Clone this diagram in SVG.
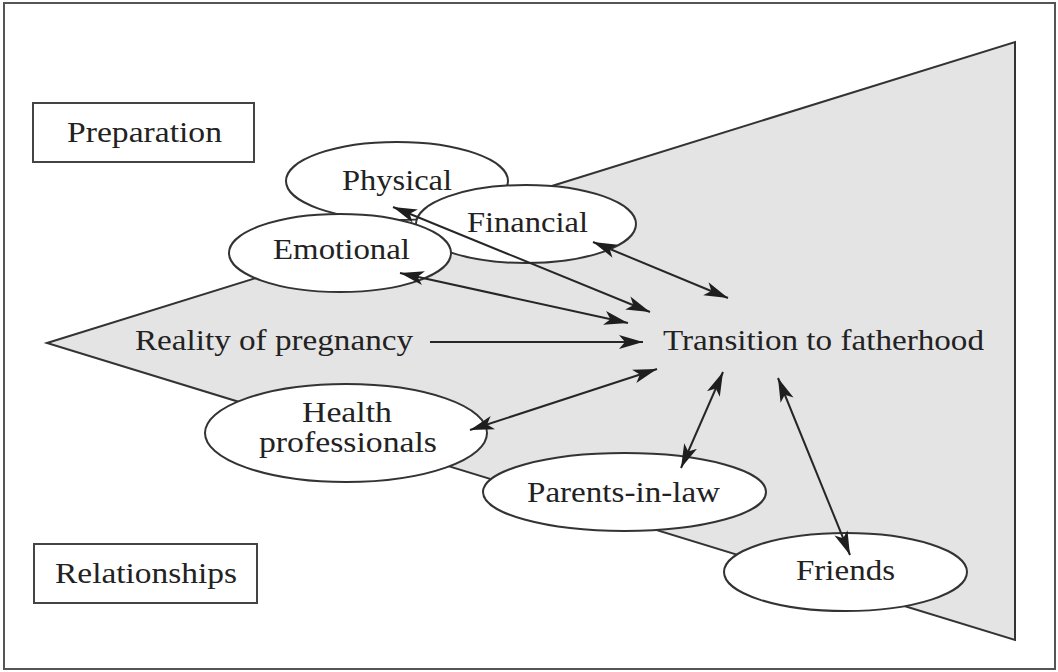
<svg xmlns="http://www.w3.org/2000/svg" width="1058" height="672" viewBox="0 0 1058 672">
<style>
.t{font-family:"Liberation Serif","Times New Roman",serif;font-size:30px;fill:#222222;text-anchor:middle}
.e{fill:#ffffff;stroke:#333333;stroke-width:2}
.b{fill:#ffffff;stroke:#444444;stroke-width:2}
.c{stroke:#262626;stroke-width:2;fill:none}
</style>
<defs>
<marker id="ah" markerUnits="userSpaceOnUse" markerWidth="26" markerHeight="16" refX="24" refY="8" orient="auto-start-reverse" viewBox="0 0 26 16">
<path d="M0,1 L24,8 L0,15 L6,8 Z" fill="#1e1e1e"/>
</marker>
</defs>
<rect x="0" y="0" width="1058" height="672" fill="#ffffff"/>
<rect x="4" y="3" width="1051" height="666" fill="none" stroke="#555555" stroke-width="2"/>
<polygon points="47,343 1015,42 1015,640" fill="#e4e4e4" stroke="#333333" stroke-width="2"/>
<g id="preparation"><rect class="b" x="33" y="103" width="221" height="59"/><text class="t" x="144.5" y="142" textLength="155" lengthAdjust="spacingAndGlyphs">Preparation</text></g>
<g id="relationships"><rect class="b" x="34" y="544" width="223" height="59"/><text class="t" x="146" y="583" textLength="182" lengthAdjust="spacingAndGlyphs">Relationships</text></g>
<g id="physical"><ellipse class="e" cx="397" cy="181" rx="111" ry="39"/><text class="t" x="397" y="190" textLength="110" lengthAdjust="spacingAndGlyphs">Physical</text></g>
<g id="financial"><ellipse class="e" cx="526" cy="224" rx="110" ry="39"/><text class="t" x="527.5" y="232" textLength="121" lengthAdjust="spacingAndGlyphs">Financial</text></g>
<g id="emotional"><ellipse class="e" cx="340" cy="253" rx="111" ry="39"/><text class="t" x="341.5" y="259" textLength="137" lengthAdjust="spacingAndGlyphs">Emotional</text></g>
<g id="reality"><text class="t" x="274" y="350" textLength="278" lengthAdjust="spacingAndGlyphs">Reality of pregnancy</text></g>
<g id="transition"><text class="t" x="823.5" y="350" textLength="321" lengthAdjust="spacingAndGlyphs">Transition to fatherhood</text></g>
<g id="health"><ellipse class="e" cx="346" cy="433" rx="141" ry="49"/><text class="t" x="347" y="422" textLength="90" lengthAdjust="spacingAndGlyphs">Health</text><text class="t" x="348" y="452" textLength="178" lengthAdjust="spacingAndGlyphs">professionals</text></g>
<g id="parents"><ellipse class="e" cx="624.5" cy="492" rx="141.5" ry="39"/><text class="t" x="623.5" y="502" textLength="193" lengthAdjust="spacingAndGlyphs">Parents-in-law</text></g>
<g id="friends"><ellipse class="e" cx="845.5" cy="572" rx="121.5" ry="39"/><text class="t" x="845.5" y="580" textLength="99" lengthAdjust="spacingAndGlyphs">Friends</text></g>
<g id="connectors">
<line class="c" x1="393" y1="207" x2="650" y2="312" marker-start="url(#ah)" marker-end="url(#ah)"/>
<line class="c" x1="400" y1="273" x2="628" y2="323" marker-start="url(#ah)" marker-end="url(#ah)"/>
<line class="c" x1="593" y1="242" x2="728" y2="298" marker-start="url(#ah)" marker-end="url(#ah)"/>
<line class="c" x1="430" y1="342" x2="643" y2="342" marker-end="url(#ah)"/>
<line class="c" x1="470" y1="430" x2="657" y2="369" marker-start="url(#ah)" marker-end="url(#ah)"/>
<line class="c" x1="681" y1="468" x2="723" y2="372" marker-start="url(#ah)" marker-end="url(#ah)"/>
<line class="c" x1="850" y1="555" x2="778" y2="378" marker-start="url(#ah)" marker-end="url(#ah)"/>
</g>
</svg>
